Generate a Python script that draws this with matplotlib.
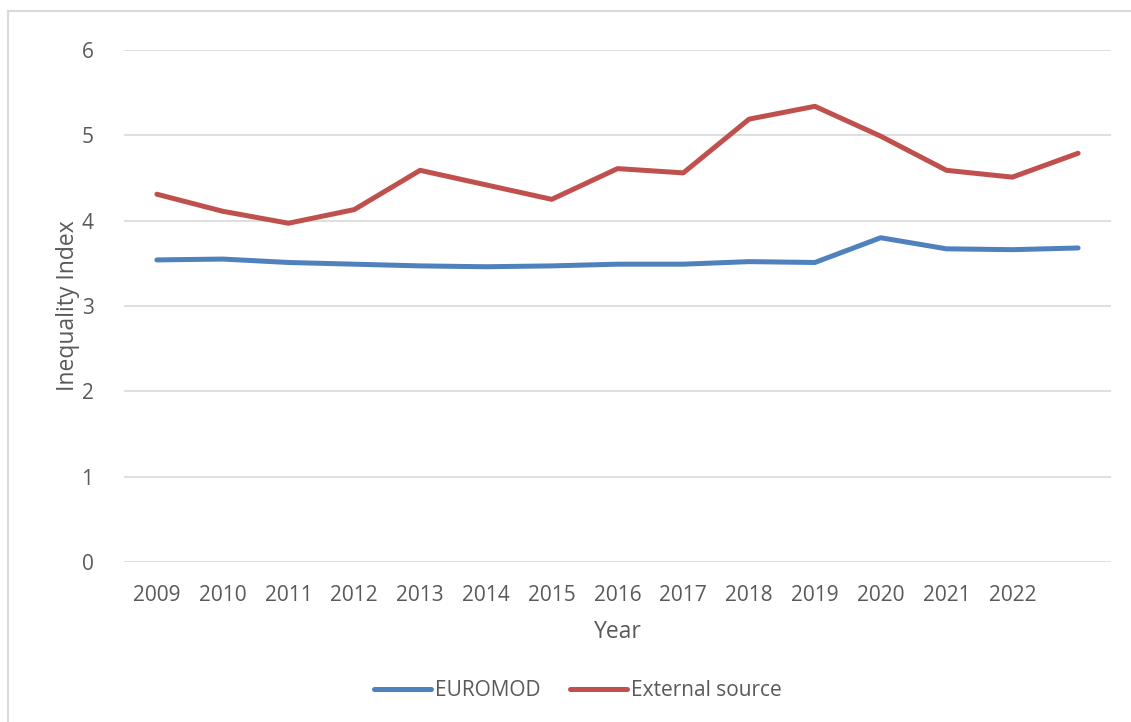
import matplotlib
matplotlib.use("Agg")
import matplotlib.pyplot as plt
from matplotlib.lines import Line2D

# data
years = [2009, 2010, 2011, 2012, 2013, 2014, 2015, 2016, 2017, 2018, 2019, 2020, 2021, 2022, 2023]
tick_years = [2009, 2010, 2011, 2012, 2013, 2014, 2015, 2016, 2017, 2018, 2019, 2020, 2021, 2022]
euromod = [3.54, 3.55, 3.51, 3.49, 3.47, 3.46, 3.47, 3.49, 3.49, 3.52, 3.51, 3.80, 3.67, 3.66, 3.68]
external = [4.31, 4.11, 3.97, 4.13, 4.59, 4.42, 4.25, 4.61, 4.56, 5.19, 5.34, 4.99, 4.59, 4.51, 4.79]

TEXT = "#595959"
BLUE = "#4F81BD"
RED = "#C0504D"
GRID = "#D9D9D9"

plt.rcParams["font.family"] = ["Open Sans", "DejaVu Sans"]

W, H = 1131, 722
fig = plt.figure(figsize=(W / 100, H / 100), dpi=100)

# outer chart border (only top and left visible)
fig.add_artist(Line2D([8 / W, 1], [1 - 11 / H, 1 - 11 / H], color=GRID, lw=1.5))
fig.add_artist(Line2D([8 / W, 8 / W], [0, 1 - 11 / H], color=GRID, lw=1.5))

left, right, top, bottom = 124, 1111, 50, 562
ax = fig.add_axes([left / W, 1 - bottom / H, (right - left) / W, (bottom - top) / H])

ax.plot(years, euromod, color=BLUE, lw=3.6, solid_capstyle="round", solid_joinstyle="round", label="EUROMOD")
ax.plot(years, external, color=RED, lw=3.6, solid_capstyle="round", solid_joinstyle="round", label="External source")

ax.set_xlim(years[0] - 0.5, years[-1] + 0.5)
ax.set_ylim(0, 6)
ax.set_yticks(range(0, 7))
ax.set_xticks(tick_years)
ax.set_xticklabels([str(y) for y in tick_years])
ax.yaxis.grid(True, color=GRID, lw=1.2)
ax.set_axisbelow(True)
for s in ax.spines.values():
    s.set_visible(False)
ax.tick_params(axis="both", length=0, labelsize=15, colors=TEXT)
ax.tick_params(axis="x", pad=16.5)
ax.tick_params(axis="y", pad=22)

ax.set_xlabel("Year", fontsize=16.5, color=TEXT, labelpad=10.5)
ax.set_ylabel("Inequality Index", fontsize=16.5, color=TEXT, labelpad=1)

fig.legend(loc="center", bbox_to_anchor=(578 / W, 1 - 691 / H), ncol=2, frameon=False,
           fontsize=15, labelcolor=TEXT, handlelength=2.7, handletextpad=0.2, columnspacing=1.45)

fig.savefig("out.png", dpi=100, facecolor="white")
